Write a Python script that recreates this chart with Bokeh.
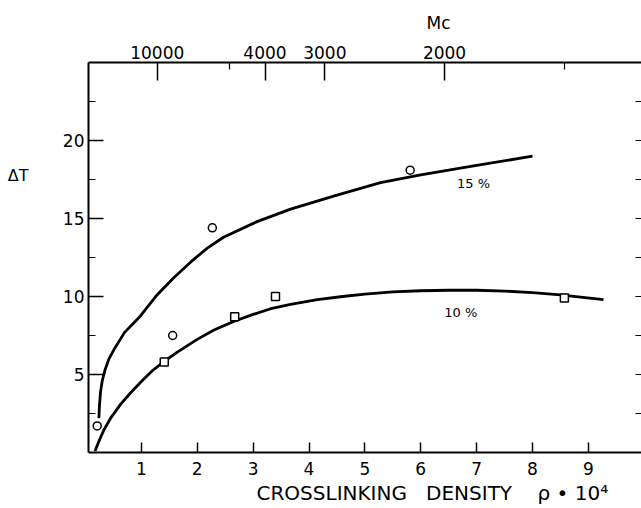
from bokeh.plotting import figure
from bokeh.models import LinearAxis, FixedTicker, Label, Range1d, Title
from bokeh.embed import file_html
from bokeh.resources import INLINE

# ---- data ----
# measured points, 15 % sample (circles)
rho_15 = [0.21, 1.56, 2.27, 5.81]
dT_15 = [1.7, 7.5, 14.4, 18.1]
# measured points, 10 % sample (squares)
rho_10 = [1.41, 2.67, 3.40, 8.57]
dT_10 = [5.8, 8.7, 10.0, 9.9]

# drawn curves
curve15_x = [0.24, 0.25, 0.27, 0.30, 0.35, 0.42, 0.51, 0.70, 0.98, 1.28, 1.58, 1.88,
             2.18, 2.47, 3.07, 3.67, 4.5, 5.28, 6.0, 7.0, 8.0]
curve15_y = [2.2, 3.0, 3.9, 4.6, 5.3, 6.0, 6.6, 7.7, 8.74, 10.1, 11.2, 12.2,
             13.1, 13.8, 14.8, 15.6, 16.5, 17.3, 17.8, 18.4, 19.0]
curve10_x = [0.17, 0.25, 0.33, 0.45, 0.63, 0.80, 1.0, 1.2, 1.41, 1.65, 2.0, 2.3, 2.65, 3.0,
             3.3, 3.67, 4.15, 4.6, 5.0, 5.5, 6.0, 6.5, 7.0, 7.5, 8.0, 8.5, 8.9, 9.27]
curve10_y = [0.1, 0.8, 1.45, 2.2, 3.1, 3.8, 4.55, 5.25, 5.85, 6.45, 7.25, 7.85, 8.4, 8.85,
             9.2, 9.5, 9.8, 10.0, 10.15, 10.3, 10.37, 10.4, 10.4, 10.35, 10.25, 10.1, 9.95, 9.8]

# tick values
x_ticks = [1, 2, 3, 4, 5, 6, 7, 8, 9]
y_ticks = [5, 10, 15, 20]
y_minor = [2.5, 7.5, 12.5, 17.5, 22.5]
right_ticks = [2.5, 5, 7.5, 10, 12.5, 15, 17.5, 20, 22.5]
mc_labeled = [10000, 4000, 3000, 2000]
mc_unlabeled = [5000, 1500]
mc_const = 12850.0  # rho*10^4 = mc_const / Mc

FONT = "DejaVu Sans"
NB = "\u00a0"

p = figure(width=641, height=508,
           x_range=Range1d(0.054, 9.95), y_range=Range1d(0, 25),
           output_backend="svg", toolbar_location=None,
           min_border_left=88, min_border_right=0,
           min_border_top=62, min_border_bottom=56,
           outline_line_color=None, background_fill_color="white",
           border_fill_color="white")
p.grid.visible = False

def style_axis(ax, tick_in, minor_in, standoff, fs="17px"):
    ax.axis_line_width = 2
    ax.axis_line_color = "black"
    ax.major_tick_in = tick_in
    ax.major_tick_out = 0
    ax.minor_tick_in = minor_in
    ax.minor_tick_out = 0
    ax.major_tick_line_width = 1.5
    ax.minor_tick_line_width = 1.2
    ax.major_tick_line_color = "black"
    ax.minor_tick_line_color = "black"
    ax.major_label_text_font = FONT
    ax.major_label_text_font_size = fs
    ax.major_label_text_color = "black"
    ax.major_label_standoff = standoff

# bottom axis
xa = p.xaxis[0]
xa.ticker = FixedTicker(ticks=x_ticks, minor_ticks=[])
style_axis(xa, 10, 0, 9)

# left axis
ya = p.yaxis[0]
ya.ticker = FixedTicker(ticks=y_ticks, minor_ticks=y_minor)
style_axis(ya, 15, 7, 4)

# left-side quantity name "ΔT", set horizontally beside the axis
dT_name_pos = 17.75
da = LinearAxis(ticker=FixedTicker(ticks=[dT_name_pos], minor_ticks=[]))
da.major_label_overrides = {dT_name_pos: "ΔT"}
style_axis(da, 0, 0, 31, fs="16px")
da.axis_line_color = None
da.major_tick_line_color = None
da.minor_tick_line_color = None
p.add_layout(da, "left")

# right axis (tick marks only)
ra = LinearAxis(ticker=FixedTicker(ticks=[], minor_ticks=right_ticks))
style_axis(ra, 0, 6, 0)
ra.axis_line_color = None
p.add_layout(ra, "right")

# top axis: Mc
top_pos = [mc_const / m for m in mc_labeled]
top_minor = [mc_const / m for m in mc_unlabeled]
ta = LinearAxis(ticker=FixedTicker(ticks=top_pos, minor_ticks=top_minor))
ta.major_label_overrides = {pos: str(m) for pos, m in zip(top_pos, mc_labeled)}
style_axis(ta, 18, 7, 4)
p.add_layout(ta, "above")

p.add_layout(Title(text="Mc", align="left", offset=338, standoff=19,
                   text_font=FONT, text_font_size="17px", text_font_style="normal",
                   text_color="black"), "above")

p.add_layout(Title(text="CROSSLINKING" + NB * 3 + "DENSITY" + NB * 4 + "ρ" + NB + "•" + NB + "10⁴",
                   align="left", offset=168, standoff=2,
                   text_font=FONT, text_font_size="20px", text_font_style="normal",
                   text_color="black"), "below")

# curves
p.line(curve15_x, curve15_y, line_width=2.8, line_color="black")
p.line(curve10_x, curve10_y, line_width=2.8, line_color="black")

# measured points
p.scatter(rho_15, dT_15, marker="circle", size=8, fill_color="white",
          line_color="black", line_width=1.5)
p.scatter(rho_10, dT_10, marker="square", size=8, fill_color="white",
          line_color="black", line_width=1.5)

# curve labels
for x, y, t in [(6.65, 17.25, "15 %"), (6.42, 8.97, "10 %")]:
    p.add_layout(Label(x=x, y=y, text=t, text_font=FONT, text_font_size="13px",
                       text_align="left", text_baseline="middle", text_color="black"))

open("out.html", "w").write(file_html(p, INLINE))
